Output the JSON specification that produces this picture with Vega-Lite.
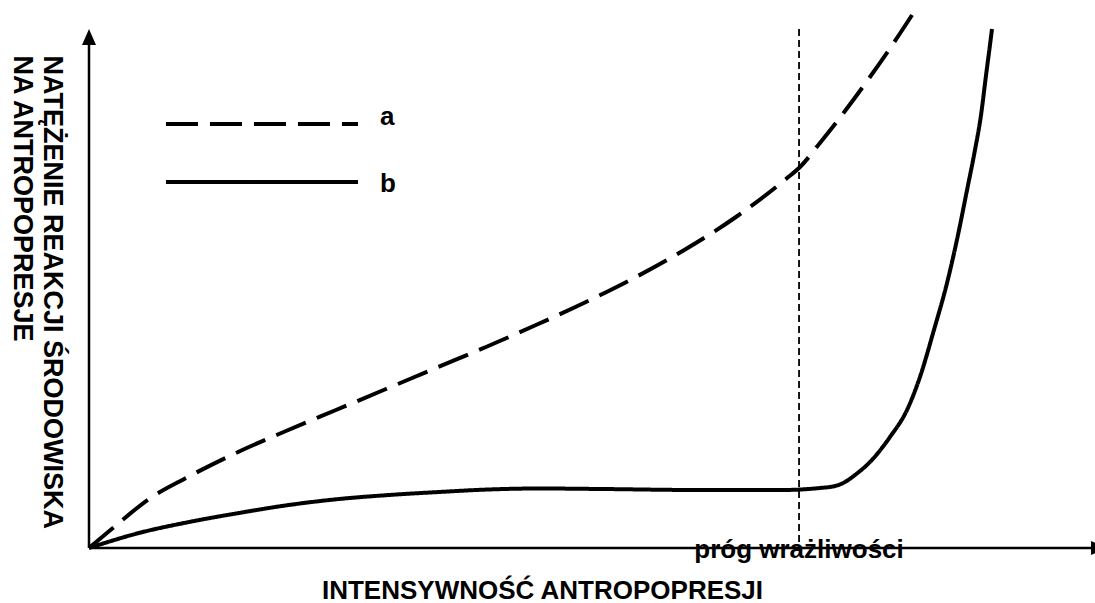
{
  "$schema": "https://vega.github.io/schema/vega-lite/v6.json",
  "autosize": {"type": "none"},
  "width": 1006,
  "height": 548,
  "padding": {"left": 89, "top": 0, "right": 0, "bottom": 55},
  "background": "white",
  "config": {"view": {"stroke": null}, "font": "Liberation Sans"},
  "datasets": {
    "curves": [
      {"x": 0, "y": 0, "series": "a"},
      {"x": 2.49, "y": 3.83, "series": "a"},
      {"x": 5.96, "y": 8.94, "series": "a"},
      {"x": 9.64, "y": 12.77, "series": "a"},
      {"x": 14.61, "y": 17.34, "series": "a"},
      {"x": 19.58, "y": 21.35, "series": "a"},
      {"x": 24.55, "y": 25.18, "series": "a"},
      {"x": 29.52, "y": 29.01, "series": "a"},
      {"x": 34.49, "y": 32.85, "series": "a"},
      {"x": 39.46, "y": 36.68, "series": "a"},
      {"x": 44.43, "y": 40.69, "series": "a"},
      {"x": 49.4, "y": 44.89, "series": "a"},
      {"x": 54.37, "y": 49.45, "series": "a"},
      {"x": 59.34, "y": 54.56, "series": "a"},
      {"x": 64.31, "y": 60.4, "series": "a"},
      {"x": 69.28, "y": 67.34, "series": "a"},
      {"x": 70.68, "y": 69.53, "series": "a"},
      {"x": 72.66, "y": 73.91, "series": "a"},
      {"x": 75.15, "y": 79.74, "series": "a"},
      {"x": 77.63, "y": 85.95, "series": "a"},
      {"x": 80.12, "y": 92.52, "series": "a"},
      {"x": 82.01, "y": 97.81, "series": "a"},
      {"x": 0, "y": 0, "series": "b"},
      {"x": 4.97, "y": 2.74, "series": "b"},
      {"x": 9.94, "y": 4.74, "series": "b"},
      {"x": 14.91, "y": 6.39, "series": "b"},
      {"x": 19.88, "y": 7.85, "series": "b"},
      {"x": 24.85, "y": 8.94, "series": "b"},
      {"x": 29.82, "y": 9.67, "series": "b"},
      {"x": 34.79, "y": 10.22, "series": "b"},
      {"x": 39.76, "y": 10.68, "series": "b"},
      {"x": 44.73, "y": 10.86, "series": "b"},
      {"x": 50.8, "y": 10.77, "series": "b"},
      {"x": 60.74, "y": 10.58, "series": "b"},
      {"x": 68.69, "y": 10.58, "series": "b"},
      {"x": 72.66, "y": 10.95, "series": "b"},
      {"x": 74.16, "y": 11.31, "series": "b"},
      {"x": 75.15, "y": 12.04, "series": "b"},
      {"x": 76.14, "y": 13.32, "series": "b"},
      {"x": 77.63, "y": 15.69, "series": "b"},
      {"x": 79.62, "y": 20.26, "series": "b"},
      {"x": 81.31, "y": 25.18, "series": "b"},
      {"x": 82.6, "y": 31.2, "series": "b"},
      {"x": 83.99, "y": 39.78, "series": "b"},
      {"x": 85.29, "y": 48.36, "series": "b"},
      {"x": 86.38, "y": 57.12, "series": "b"},
      {"x": 87.28, "y": 65.33, "series": "b"},
      {"x": 88.07, "y": 72.63, "series": "b"},
      {"x": 88.67, "y": 79.01, "series": "b"},
      {"x": 89.17, "y": 86.31, "series": "b"},
      {"x": 89.56, "y": 91.79, "series": "b"},
      {"x": 89.76, "y": 94.71, "series": "b"}
    ],
    "legendLines": [
      {"x": 7.65, "x2": 26.74, "y": 77.37, "series": "a"},
      {"x": 7.65, "x2": 26.74, "y": 66.79, "series": "b"}
    ],
    "legendLabels": [
      {"x": 28.93, "y": 77.19, "label": "a"},
      {"x": 28.93, "y": 64.96, "label": "b"}
    ],
    "threshold": [
      {"x": 70.58, "y": 94.7, "y2": 0}
    ],
    "thresholdLabel": [
      {"x": 70.58, "y": -1.82, "label": "próg wrażliwości"}
    ],
    "axesLines": [
      {"x": 0, "x2": 0, "y": 0, "y2": 92},
      {"x": 0, "x2": 100.4, "y": 0, "y2": 0}
    ],
    "arrows": [
      {"x": 0, "y": 93.25, "dir": "up"},
      {"x": 100.4, "y": 0, "dir": "right"}
    ]
  },
  "encoding": {
    "x": {
      "field": "x", "type": "quantitative",
      "scale": {"domain": [0, 100], "nice": false, "zero": false},
      "axis": {
        "title": "INTENSYWNOŚĆ ANTROPOPRESJI",
        "domain": false, "ticks": false, "labels": false, "grid": false,
        "titleX": 453, "titleY": 50, "titleAlign": "center", "titleBaseline": "alphabetic",
        "titleFontSize": 26, "titleFontWeight": "bold", "titleFont": "Liberation Sans", "titleColor": "black"
      }
    },
    "y": {
      "field": "y", "type": "quantitative",
      "scale": {"domain": [0, 100], "nice": false, "zero": false},
      "axis": {
        "title": ["NATĘŻENIE REAKCJI ŚRODOWISKA", "NA ANTROPOPRESJE"],
        "domain": false, "ticks": false, "labels": false, "grid": false,
        "titleAngle": 90, "titleX": -46, "titleY": 55, "titleAlign": "left", "titleBaseline": "alphabetic",
        "titleLineHeight": 30,
        "titleFontSize": 27, "titleFontWeight": "bold", "titleFont": "Liberation Sans", "titleColor": "black"
      }
    }
  },
  "layer": [
    {
      "data": {"name": "axesLines"},
      "mark": {"type": "rule", "color": "black", "strokeWidth": 2.5},
      "encoding": {"x2": {"field": "x2"}, "y2": {"field": "y2"}}
    },
    {
      "data": {"name": "arrows"},
      "mark": {"type": "point", "filled": true, "color": "black", "opacity": 1, "size": 256},
      "encoding": {
        "shape": {
          "field": "dir", "type": "nominal",
          "scale": {"domain": ["up", "right"], "range": ["M0,-1L0.875,1L-0.875,1Z", "M1,0L-1,-0.875L-1,0.875Z"]},
          "legend": null
        }
      }
    },
    {
      "data": {"name": "threshold"},
      "mark": {"type": "rule", "color": "black", "strokeWidth": 1.8, "strokeDash": [7, 4]},
      "encoding": {"y2": {"field": "y2"}}
    },
    {
      "data": {"name": "curves"},
      "mark": {"type": "line", "color": "black", "strokeWidth": 4, "interpolate": "monotone"},
      "encoding": {
        "strokeDash": {
          "field": "series", "type": "nominal",
          "scale": {"domain": ["a", "b"], "range": [[32, 12], [1, 0]]},
          "legend": null
        }
      }
    },
    {
      "data": {"name": "legendLines"},
      "mark": {"type": "rule", "color": "black", "strokeWidth": 4},
      "encoding": {
        "x2": {"field": "x2"},
        "strokeDash": {
          "field": "series", "type": "nominal",
          "scale": {"domain": ["a", "b"], "range": [[32, 12], [1, 0]]},
          "legend": null
        }
      }
    },
    {
      "data": {"name": "legendLabels"},
      "mark": {"type": "text", "align": "left", "baseline": "alphabetic", "fontSize": 26, "fontWeight": "bold", "font": "Liberation Sans", "color": "black"},
      "encoding": {"text": {"field": "label"}}
    },
    {
      "data": {"name": "thresholdLabel"},
      "mark": {"type": "text", "align": "center", "baseline": "alphabetic", "fontSize": 26, "fontWeight": "bold", "font": "Liberation Sans", "color": "black"},
      "encoding": {"text": {"field": "label"}}
    }
  ]
}
